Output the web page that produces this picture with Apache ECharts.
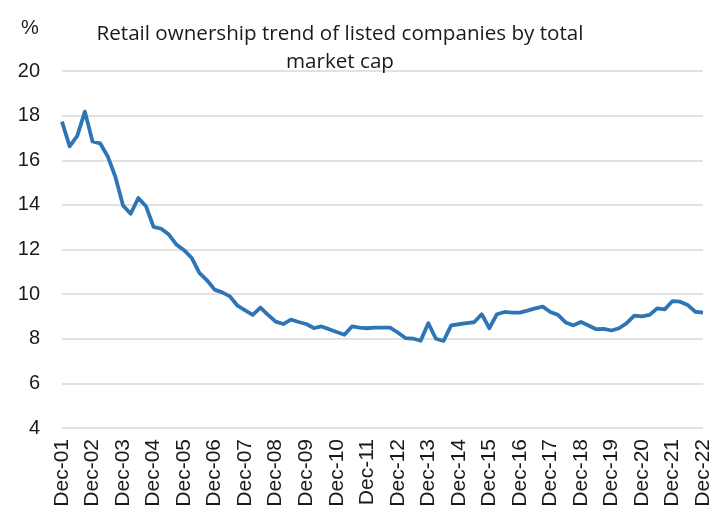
<!DOCTYPE html>
<html>
<head>
<meta charset="utf-8">
<script src="https://cdn.jsdelivr.net/npm/echarts@6/dist/echarts.min.js"></script>
<style>
  html, body { margin: 0; padding: 0; background: #fff; }
  #chart { width: 723px; height: 514px; }
</style>
</head>
<body>
<div id="chart"></div>
<script>
// Quarterly retail ownership share (%) of total listed market cap, Dec-01 .. Dec-22
const years = ['01','02','03','04','05','06','07','08','09','10','11','12','13','14','15','16','17','18','19','20','21','22'];
const retailShare = [
  17.73, 16.62, 17.09, 18.18, 16.84, 16.76, 16.17, 15.25,
  13.97, 13.60, 14.31, 13.94, 13.01, 12.93, 12.67, 12.22,
  11.97, 11.62, 10.95, 10.62, 10.20, 10.08, 9.90, 9.48,
  9.27, 9.07, 9.40, 9.07, 8.77, 8.66, 8.86, 8.75,
  8.66, 8.48, 8.55, 8.43, 8.30, 8.18, 8.55, 8.50,
  8.47, 8.50, 8.50, 8.50, 8.28, 8.03, 8.01, 7.91,
  8.70, 8.00, 7.90, 8.60, 8.65, 8.70, 8.74, 9.10,
  8.47, 9.10, 9.20, 9.17, 9.17, 9.26, 9.36, 9.44,
  9.20, 9.07, 8.73, 8.60, 8.75, 8.59, 8.43, 8.44,
  8.37, 8.47, 8.70, 9.04, 9.00, 9.07, 9.36, 9.32,
  9.69, 9.66, 9.51, 9.21, 9.17
];
const yTicks = { min: 4, max: 20, step: 2 };

// Build quarter-end category names: Dec-01, Mar-02, Jun-02, Sep-02, Dec-02, ...
const months = ['Mar', 'Jun', 'Sep', 'Dec'];
const quarters = ['Dec-' + years[0]];
for (let y = 1; y < years.length; y++) {
  months.forEach(m => quarters.push(m + '-' + years[y]));
}

const chart = echarts.init(document.getElementById('chart'), null, { renderer: 'canvas' });
chart.setOption({
  animation: false,
  backgroundColor: '#ffffff',
  title: {
    text: 'Retail ownership trend of listed companies by total\nmarket cap',
    left: 335,
    top: 15,
    textAlign: 'center',
    textStyle: {
      fontFamily: 'Open Sans',
      fontWeight: 'normal',
      fontSize: 20.6,
      lineHeight: 28,
      color: '#1a1a1a'
    }
  },
  graphic: [{
    type: 'text',
    left: 21,
    top: 18,
    style: { text: '%', font: '20px "Liberation Sans"', fill: '#1a1a1a' }
  }],
  grid: { left: 62, right: 20, top: 71, bottom: 86, containLabel: false },
  xAxis: {
    type: 'category',
    data: quarters,
    boundaryGap: false,
    axisLine: { show: false },
    axisTick: { show: false },
    axisLabel: {
      interval: 3,
      rotate: 90,
      margin: 11,
      fontFamily: 'Liberation Sans',
      fontSize: 21,
      color: '#1a1a1a'
    },
    splitLine: { show: false }
  },
  yAxis: {
    type: 'value',
    min: yTicks.min,
    max: yTicks.max,
    interval: yTicks.step,
    axisLine: { show: false },
    axisTick: { show: false },
    axisLabel: {
      margin: 22,
      fontFamily: 'Liberation Sans',
      fontSize: 20,
      color: '#1a1a1a'
    },
    splitLine: { lineStyle: { color: '#d9d9d9', width: 1.5 } }
  },
  series: [{
    type: 'line',
    data: retailShare,
    symbol: 'none',
    lineStyle: { color: '#2e75b6', width: 3.8, join: 'round' }
  }]
});
</script>
</body>
</html>
